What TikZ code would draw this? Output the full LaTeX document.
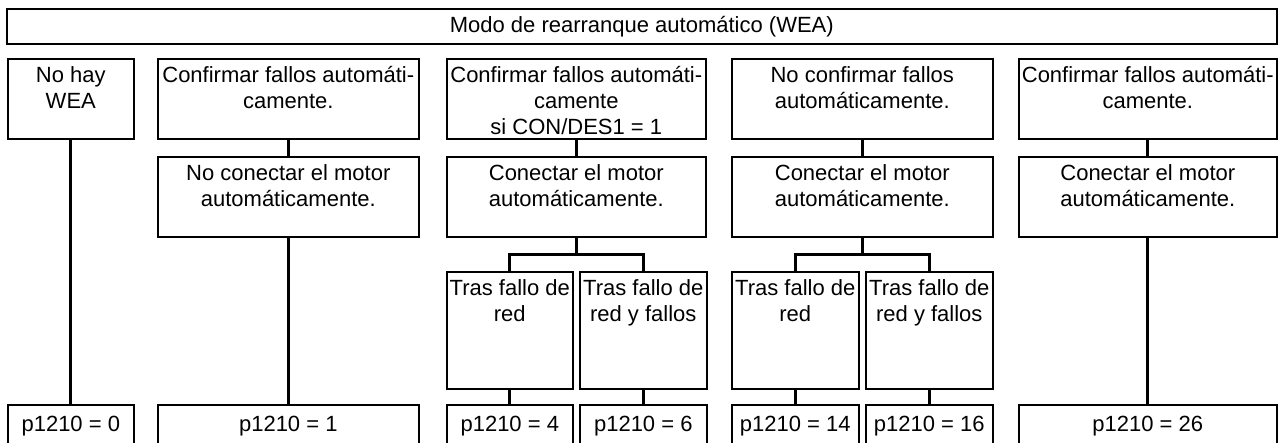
\documentclass[tikz,border=0pt]{standalone}
\usepackage{fontspec}
\setmainfont{Liberation Sans}
\usetikzlibrary{positioning,calc}
\tikzset{
  box/.style={draw=black,line width=1.6pt,anchor=north west,inner sep=0pt},
  boxtext/.style={align=center,inner sep=0pt,font=\fontsize{22}{26}\selectfont},
  wire/.style={draw=black,line width=3pt},
}
% name, x, y, width, height, text
\newcommand{\wbox}[6]{%
  \node[box,minimum width=#4pt,minimum height=#5pt] (#1) at (#2,#3) {};
  \node[boxtext,below=6.5pt of #1.north] (#1t) {\strut#6};
}
% name, x, width, value
\newcommand{\pbox}[4]{%
  \node[box,minimum width=#3pt,minimum height=44pt] (#1) at (#2,404) {};
  \node[boxtext,anchor=base] (#1t) at ($(#1.north)+(0,28)$) {p1210 = #4};
}

\begin{document}
\begin{tikzpicture}[x=1pt,y=-1pt]
  \clip (0,0) rectangle (1278,443);
  \useasboundingbox (0,0) rectangle (1278,443);
  \node[box,minimum width=1270pt,minimum height=35pt] (title) at (6,8) {};
  \node[boxtext] (titlet) at (title.center) {Modo de rearranque automático (WEA)};
  % first row
  \wbox{c1a}{7}{58}{126}{80}{No hay\\WEA}
  \wbox{c2a}{157}{58}{261}{80}{Confirmar fallos automáti-\\camente.}
  \wbox{c3a}{446}{58}{259}{80}{Confirmar fallos automáti-\\camente\\si CON/DES1 = 1}
  \wbox{c4a}{731}{58}{261}{80}{No confirmar fallos\\automáticamente.}
  \wbox{c5a}{1018}{58}{258}{80}{Confirmar fallos automáti-\\camente.}
  % second row
  \wbox{c2b}{157}{156}{261}{80}{No conectar el motor\\automáticamente.}
  \wbox{c3b}{446}{156}{259}{80}{Conectar el motor\\automáticamente.}
  \wbox{c4b}{731}{156}{261}{80}{Conectar el motor\\automáticamente.}
  \wbox{c5b}{1018}{156}{258}{80}{Conectar el motor\\automáticamente.}
  % third row
  \wbox{c3c}{446}{271}{126}{117}{Tras fallo de\\red}
  \wbox{c3d}{579}{271}{127}{117}{Tras fallo de\\red y fallos}
  \wbox{c4c}{731}{271}{127}{117}{Tras fallo de\\red}
  \wbox{c4d}{865}{271}{127}{117}{Tras fallo de\\red y fallos}
  % parameter values
  \pbox{b1}{7}{126}{0}
  \pbox{b2}{157}{261}{1}
  \pbox{b3}{446}{126}{4}
  \pbox{b4}{579}{127}{6}
  \pbox{b5}{731}{127}{14}
  \pbox{b6}{865}{127}{16}
  \pbox{b7}{1018}{258}{26}
  % connectors
  \draw[wire] (c1a.south) -- (b1.north);
  \draw[wire] (c2a.south) -- (c2b.north);
  \draw[wire] (c2b.south) -- (b2.north);
  \draw[wire] (c3a.south) -- (c3b.north);
  \draw[wire] (c3b.south) -- ++(0,17) -| (c3c.north);
  \draw[wire] (c3b.south) -- ++(0,17) -| (c3d.north);
  \draw[wire] (c4a.south) -- (c4b.north);
  \draw[wire] (c4b.south) -- ++(0,17) -| (c4c.north);
  \draw[wire] (c4b.south) -- ++(0,17) -| (c4d.north);
  \draw[wire] (c5a.south) -- (c5b.north);
  \draw[wire] (c5b.south) -- (b7.north);
  \draw[wire] (c3c.south) -- (b3.north);
  \draw[wire] (c3d.south) -- (b4.north);
  \draw[wire] (c4c.south) -- (b5.north);
  \draw[wire] (c4d.south) -- (b6.north);
\end{tikzpicture}
\end{document}
